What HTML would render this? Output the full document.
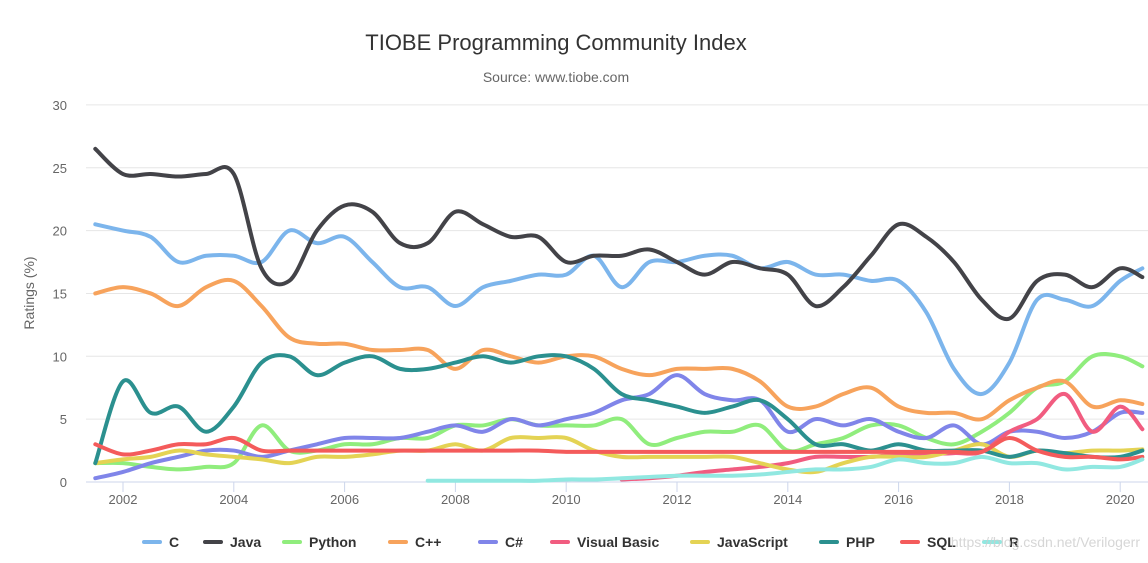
<!DOCTYPE html>
<html><head><meta charset="utf-8"><style>
html,body{margin:0;padding:0;background:#fff;}
svg{display:block;font-family:"Liberation Sans",sans-serif;}
</style></head><body>
<svg id="chart" width="1148" height="563">
<text x="556" y="50" text-anchor="middle" font-size="22" fill="#333">TIOBE Programming Community Index</text>
<text x="556" y="82" text-anchor="middle" font-size="14" fill="#666">Source: www.tiobe.com</text>
<text transform="translate(34,293) rotate(-90)" text-anchor="middle" font-size="14" fill="#666">Ratings (%)</text>
<g id="grid"></g><g id="xaxis"></g><g id="series"></g><g id="legend"></g>
<text x="1140" y="547" text-anchor="end" font-size="14" fill="#ccc" opacity="0.8">https://blog.csdn.net/Verilogerr</text>
</svg>
<script>
const times=[2001.5,2002,2002.5,2003,2003.5,2004,2004.5,2005,2005.5,2006,2006.5,2007,2007.5,2008,2008.5,2009,2009.5,2010,2010.5,2011,2011.5,2012,2012.5,2013,2013.5,2014,2014.5,2015,2015.5,2016,2016.5,2017,2017.5,2018,2018.5,2019,2019.5,2020,2020.4];
const yTicks=[0,5,10,15,20,25,30];
const xTicks=[2002,2004,2006,2008,2010,2012,2014,2016,2018,2020];
const names=["C","Java","Python","C++","C#","Visual Basic","JavaScript","PHP","SQL","R"];
const colors=["#7cb5ec","#434348","#90ed7d","#f7a35c","#8085e9","#f15c80","#e4d354","#2b908f","#f45b5b","#91e8e1"];
const C=[20.5,20,19.5,17.5,18,18,17.5,20,19,19.5,17.5,15.5,15.5,14,15.5,16,16.5,16.5,18,15.5,17.5,17.5,18,18,17,17.5,16.5,16.5,16,16,13.5,9,7,9.5,14.5,14.5,14,16,17];
const Java=[26.5,24.5,24.5,24.3,24.5,24.5,17,16,20,22,21.5,19,19,21.5,20.5,19.5,19.5,17.5,18,18,18.5,17.5,16.5,17.5,17,16.5,14,15.5,18,20.5,19.5,17.5,14.5,13,16,16.5,15.5,17,16.3];
const Python=[1.5,1.5,1.2,1,1.2,1.5,4.5,2.5,2.5,3,3,3.5,3.5,4.5,4.5,5,4.5,4.5,4.5,5,3,3.5,4,4,4.5,2.5,3,3.5,4.5,4.5,3.5,3,4,5.5,7.5,8,10,10,9.2];
const Cpp=[15,15.5,15,14,15.5,16,14,11.5,11,11,10.5,10.5,10.5,9,10.5,10,9.5,10,10,9,8.5,9,9,9,8,6,6,7,7.5,6,5.5,5.5,5,6.5,7.5,8,6,6.5,6.2];
const CSharp=[0.3,0.8,1.5,2,2.5,2.5,2,2.5,3,3.5,3.5,3.5,4,4.5,4,5,4.5,5,5.5,6.5,7,8.5,7,6.5,6.5,4,5,4.5,5,4,3.5,4.5,3,4,4,3.5,4,5.5,5.5];
const VB=[null,null,null,null,null,null,null,null,null,null,null,null,null,null,null,null,null,null,null,0.2,0.3,0.5,0.8,1,1.2,1.5,2,2,2,2.2,2.2,2.3,2.4,4,5,7,4,6,4.2];
const JS=[1.5,1.8,2,2.5,2.2,2,1.8,1.5,2,2,2.2,2.5,2.5,3,2.5,3.5,3.5,3.5,2.5,2,2,2,2,2,1.5,1,0.8,1.5,2,2,2,2.5,3,2,2.5,2.3,2.5,2.5,2.6];
const PHP=[1.5,8,5.5,6,4,6,9.5,10,8.5,9.5,10,9,9,9.5,10,9.5,10,10,9,7,6.5,6,5.5,6,6.5,5,3,3,2.5,3,2.5,2.5,2.5,2,2.5,2.3,2,2,2.5];
const SQL=[3,2.2,2.5,3,3,3.5,2.5,2.5,2.5,2.5,2.5,2.5,2.5,2.5,2.5,2.5,2.5,2.4,2.4,2.4,2.4,2.4,2.4,2.4,2.4,2.4,2.4,2.4,2.4,2.4,2.4,2.4,2.4,3.5,2.5,2,2,1.8,2];
const R=[null,null,null,null,null,null,null,null,null,null,null,null,0.1,0.1,0.1,0.1,0.1,0.2,0.2,0.3,0.4,0.5,0.5,0.5,0.6,0.8,1,1,1.2,1.8,1.5,1.5,2,1.5,1.5,1,1.2,1.2,1.8];
const seriesData=[C,Java,Python,Cpp,CSharp,VB,JS,PHP,SQL,R];
const NS="http://www.w3.org/2000/svg";
const x=t=>123+(t-2002)*55.4;
const y=v=>482-v*12.57;
function mk(tag,attrs,parent){const e=document.createElementNS(NS,tag);for(const k in attrs)e.setAttribute(k,attrs[k]);parent.appendChild(e);return e;}
const grid=document.getElementById('grid');
yTicks.forEach(v=>{
  const l=mk('line',{x1:86,x2:1148,y1:y(v),y2:y(v),stroke:v===0?'#ccd6eb':'#e6e6e6'},grid);
  
  
  const t=mk('text',{x:67,y:y(v)+5,'text-anchor':'end','font-size':13,fill:'#666'},grid);
  t.textContent=v;
  
  
});
const xa=document.getElementById('xaxis');
xTicks.forEach(v=>{
  const l=mk('line',{x1:x(v),x2:x(v),y1:482,y2:492,stroke:'#ccd6eb'},xa);
  
  
  const t=mk('text',{x:x(v),y:504,'text-anchor':'middle','font-size':13,fill:'#666'},xa);
  t.textContent=v;
  
  
});
function pathFor(vals){
  let segs=[],cur=[];
  vals.forEach((v,i)=>{if(v===null){if(cur.length)segs.push(cur);cur=[];}else cur.push([x(times[i]),y(v)]);});
  if(cur.length)segs.push(cur);
  let d='';
  segs.forEach(p=>{
    d+='M'+p[0][0]+','+p[0][1];
    for(let i=0;i<p.length-1;i++){
      const p0=p[Math.max(0,i-1)],p1=p[i],p2=p[i+1],p3=p[Math.min(p.length-1,i+2)];
      const c1=[p1[0]+(p2[0]-p0[0])/6,p1[1]+(p2[1]-p0[1])/6];
      const c2=[p2[0]-(p3[0]-p1[0])/6,p2[1]-(p3[1]-p1[1])/6];
      d+=' C'+c1[0]+','+c1[1]+' '+c2[0]+','+c2[1]+' '+p2[0]+','+p2[1];
    }
  });
  return d;
}
const sg=document.getElementById('series');
seriesData.forEach((vals,i)=>{
  const p=mk('path',{d:pathFor(vals),fill:'none',stroke:colors[i],'stroke-width':4,'stroke-linejoin':'round','stroke-linecap':'round'},sg);
  
  
});
const legX=[152,213,292,398,488,560,700,829,910,992];
const lg=document.getElementById('legend');
names.forEach((n,i)=>{
  const g=mk('g',{},lg);
  
  
  mk('line',{x1:legX[i]-8,x2:legX[i]+8,y1:542,y2:542,stroke:colors[i],'stroke-width':4,'stroke-linecap':'round'},g);
  const t=mk('text',{x:legX[i]+17,y:547,'font-size':14,'font-weight':'bold',fill:'#333'},g);
  t.textContent=n;
});
</script>
</body></html>
